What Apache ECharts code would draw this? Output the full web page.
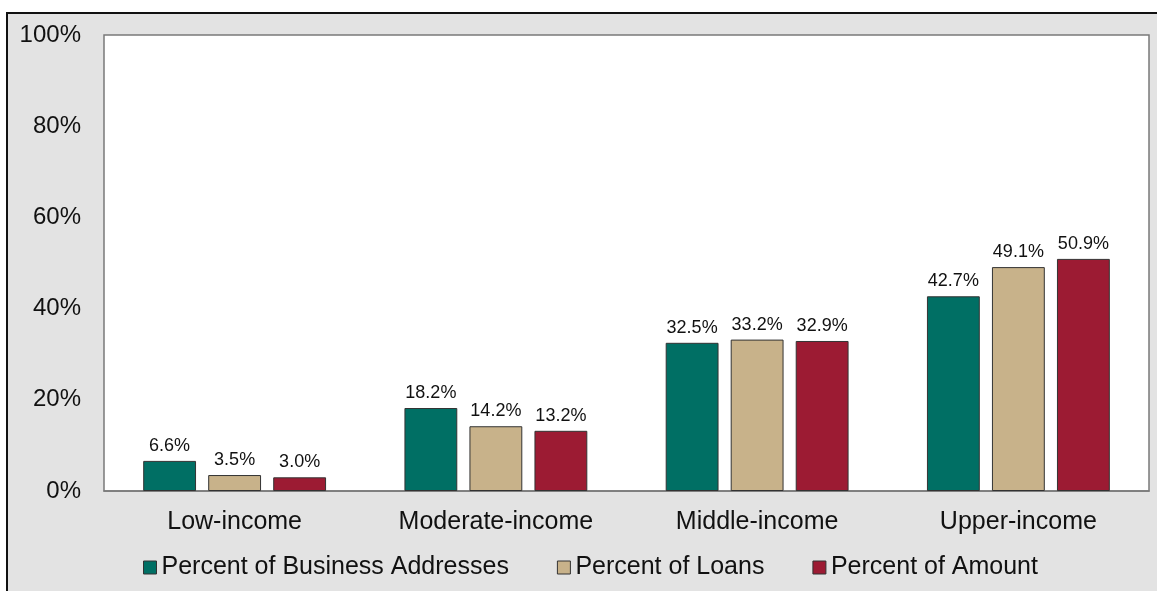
<!DOCTYPE html>
<html>
<head>
<meta charset="utf-8">
<script src="https://cdn.jsdelivr.net/npm/echarts@6/dist/echarts.min.js"></script>
<style>
  html, body { margin: 0; padding: 0; background: #ffffff; }
  #chart { width: 1157px; height: 591px; }
</style>
</head>
<body>
<div id="chart"></div>
<script>
// Income tract categories
const categories = ['Low-income', 'Moderate-income', 'Middle-income', 'Upper-income'];

// Shares by tract income level (%)
const businessAddresses = [6.6, 18.2, 32.5, 42.7];
const loans = [3.5, 14.2, 33.2, 49.1];
const amount = [3.0, 13.2, 32.9, 50.9];

const yTicks = [0, 20, 40, 60, 80, 100];

const FONT = '"Liberation Sans", Arial, sans-serif';

const chart = echarts.init(document.getElementById('chart'), null, { renderer: 'canvas' });

function barSeries(name, data, color) {
  return {
    name: name,
    type: 'bar',
    data: data,
    barGap: '23%',
    barCategoryGap: '30%',
    itemStyle: { color: color, borderColor: '#333333', borderWidth: 1 },
    label: {
      show: true,
      position: 'top',
      distance: 6,
      formatter: p => p.value.toFixed(1) + '%',
      fontFamily: FONT,
      fontSize: 18,
      color: '#111111'
    }
  };
}

chart.setOption({
  backgroundColor: '#ffffff',
  animation: false,
  textStyle: { fontFamily: FONT },
  graphic: [
    {
      type: 'rect',
      z: -10,
      silent: true,
      shape: { x: 7, y: 13, width: 1200, height: 700 },
      style: { fill: '#e3e3e3', stroke: '#111111', lineWidth: 2 }
    }
  ],
  grid: {
    left: 104,
    top: 35,
    right: 8,
    bottom: 100,
    show: true,
    backgroundColor: '#ffffff',
    borderColor: '#7a7a7a',
    borderWidth: 1.5
  },
  legend: {
    left: 143,
    top: 555,
    padding: 0,
    icon: 'rect',
    itemWidth: 13,
    itemHeight: 13,
    itemGap: 48,
    itemTextGap: 7,
    itemStyle: { borderColor: '#333333', borderWidth: 1 },
    textStyle: { fontFamily: FONT, fontSize: 25, color: '#111111' },
    data: ['Percent of Business Addresses', 'Percent of Loans', 'Percent of Amount']
  },
  xAxis: {
    type: 'category',
    data: categories,
    axisLine: { show: true, lineStyle: { color: '#7a7a7a', width: 1.5 } },
    axisTick: { show: false },
    axisLabel: { fontFamily: FONT, fontSize: 25, color: '#111111', margin: 19 }
  },
  yAxis: {
    type: 'value',
    min: yTicks[0],
    max: yTicks[yTicks.length - 1],
    interval: 20,
    splitLine: { show: false },
    axisLine: { show: false },
    axisTick: { show: false },
    axisLabel: {
      fontFamily: FONT,
      fontSize: 24,
      color: '#111111',
      margin: 23,
      formatter: v => v + '%'
    }
  },
  series: [
    barSeries('Percent of Business Addresses', businessAddresses, '#006f64'),
    barSeries('Percent of Loans', loans, '#c8b28a'),
    barSeries('Percent of Amount', amount, '#9c1b33')
  ]
});
</script>
</body>
</html>
